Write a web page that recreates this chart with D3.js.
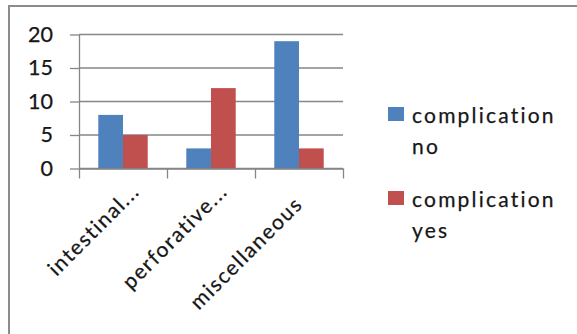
<!DOCTYPE html>
<html>
<head>
<meta charset="utf-8">
<script src="https://cdn.jsdelivr.net/npm/d3@7"></script>
<style>
  html, body { margin: 0; padding: 0; background: #fff; }
  svg { display: block; }
  text { font-family: Lato, "Open Sans", sans-serif; fill: #161616; stroke: #161616; stroke-width: 0.25px; }
</style>
</head>
<body>
<svg id="chart" width="577" height="334"></svg>
<script>
// Surgical outcome by diagnosis group
const categories = ["intestinal...", "perforative...", "miscellaneous"];
const seriesNames = ["complication no", "complication yes"];
const complicationNo = [8, 3, 19];
const complicationYes = [5, 12, 3];
const yTicks = [0, 5, 10, 15, 20];
const legendLines = [["complication", "no"], ["complication", "yes"]];

const colors = ["#4f81bd", "#c0504d"];
const gridColor = "#868686";

const svg = d3.select("#chart");

// Outer chart frame (top and left edges)
svg.append("path")
  .attr("d", "M9,334V6H577")
  .attr("fill", "none")
  .attr("stroke", "#8c8c8c")
  .attr("stroke-width", 2);

const plot = { left: 79, right: 343, top: 34.5, bottom: 168.5 };

const y = d3.scaleLinear().domain([0, 20]).range([plot.bottom, plot.top]);
const x = d3.scaleBand().domain(categories).range([plot.left, plot.right]).padding(0);
const xInner = d3.scaleBand().domain(seriesNames)
  .range([0, x.bandwidth()]).paddingInner(0).paddingOuter(0.78);

// Horizontal gridlines
svg.append("g").selectAll("line")
  .data(yTicks)
  .join("line")
  .attr("x1", plot.left).attr("x2", plot.right)
  .attr("y1", d => y(d)).attr("y2", d => y(d))
  .attr("stroke", gridColor).attr("stroke-width", 1.3);

// Bars
const rows = categories.map((c, i) => ({
  cat: c,
  values: [complicationNo[i], complicationYes[i]]
}));
const groups = svg.append("g").selectAll("g")
  .data(rows)
  .join("g")
  .attr("transform", d => `translate(${x(d.cat)},0)`);
groups.selectAll("rect")
  .data(d => d.values.map((v, j) => ({ name: seriesNames[j], value: v, j })))
  .join("rect")
  .attr("x", d => xInner(d.name))
  .attr("width", xInner.bandwidth())
  .attr("y", d => y(d.value))
  .attr("height", d => y(0) - y(d.value))
  .attr("fill", d => colors[d.j]);

// Y axis with outward ticks and labels
const yAxis = svg.append("g")
  .attr("transform", `translate(${plot.left},0)`)
  .call(d3.axisLeft(y).tickValues(yTicks).tickSize(9).tickPadding(17).tickSizeOuter(0));
yAxis.select(".domain").attr("stroke", gridColor).attr("stroke-width", 1.3);
yAxis.selectAll(".tick line").attr("stroke", gridColor).attr("stroke-width", 1.3);
yAxis.selectAll(".tick text")
  .attr("font-size", 21.5)
  .attr("font-family", "Lato, sans-serif")
  .attr("fill", "#161616");

// X axis: ticks at category boundaries
const xb = d3.scaleLinear().domain([0, categories.length]).range([plot.left, plot.right]);
const xAxis = svg.append("g")
  .attr("transform", `translate(0,${plot.bottom})`)
  .call(d3.axisBottom(xb).tickValues(d3.range(categories.length + 1))
    .tickSize(10).tickSizeOuter(0).tickFormat(""));
xAxis.select(".domain").attr("stroke", gridColor).attr("stroke-width", 1.3);
xAxis.selectAll(".tick line").attr("stroke", gridColor).attr("stroke-width", 1.3);

// Rotated category labels, anchored at their end
svg.append("g").selectAll("text")
  .data(categories)
  .join("text")
  .attr("transform", d => {
    const cx = x(d) + x.bandwidth() / 2;
    // full-length labels sit further back along the text direction
    const back = d.endsWith("...") ? 0 : 13;
    return `translate(${cx + 18 - back},${plot.bottom + 24 + back}) rotate(-45)`;
  })
  .attr("text-anchor", "end")
  .attr("font-size", 21)
  .attr("letter-spacing", 1.6)
  .text(d => d);

// Legend
const legend = svg.append("g").selectAll("g")
  .data(seriesNames)
  .join("g")
  .attr("transform", (d, i) => `translate(388,${107 + i * 84})`);
legend.append("rect")
  .attr("width", 16).attr("height", 14)
  .attr("fill", (d, i) => colors[i]);
legend.append("text")
  .attr("x", 24)
  .attr("font-size", 21)
  .attr("letter-spacing", 2.2)
  .selectAll("tspan")
  .data((d, i) => legendLines[i])
  .join("tspan")
  .attr("x", 24)
  .attr("y", (d, k) => 16.3 + k * 30.5)
  .text(d => d);
</script>
</body>
</html>
